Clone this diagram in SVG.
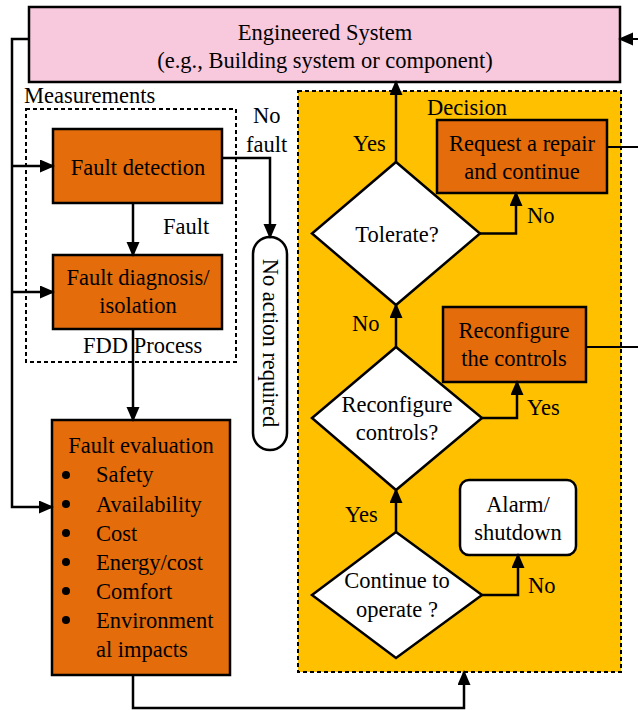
<svg xmlns="http://www.w3.org/2000/svg" width="638" height="710" viewBox="0 0 638 710">
<style>
text{font-family:'Liberation Serif','Times New Roman','DejaVu Serif',serif;font-size:22.5px;fill:#000}
.c{text-anchor:middle}
.box{fill:#E46C0A;stroke:#000;stroke-width:2.5}
.wht{fill:#fff;stroke:#000;stroke-width:2.5}
.dash{stroke:#000;stroke-width:2;stroke-dasharray:4 3}
.ln{fill:none;stroke:#000;stroke-width:2.5}
.thin{fill:none;stroke:#000;stroke-width:2}
.ar{marker-end:url(#ah)}
</style>
<defs>
<marker id="ah" markerUnits="userSpaceOnUse" markerWidth="16" markerHeight="14" viewBox="0 0 16 14" refX="13" refY="6.5" orient="auto">
<path d="M0,0 L15,6.5 L0,13 z" fill="#000"/>
</marker>
</defs>
<g font-family="Liberation Serif, Times New Roman, serif">

<g id="decision-area">
<rect x="298" y="91" width="323" height="581" fill="#FFC000" class="dash"/>
<text x="427" y="115">Decision</text>
</g>

<g id="fdd-area">
<rect x="26" y="109" width="210" height="253" fill="none" class="dash"/>
<text x="24" y="103">Measurements</text>
<text x="83" y="353">FDD Process</text>
</g>

<g id="engineered-system">
<rect x="29" y="7" width="591" height="75" fill="#F8C8DC" stroke="#000" stroke-width="2.5"/>
<text class="c" x="325" y="40">Engineered System</text>
<text class="c" x="325" y="68">(e.g., Building system or component)</text>
</g>

<g id="fault-detection">
<rect class="box" x="53" y="129" width="169" height="74"/>
<text class="c" x="138" y="175">Fault detection</text>
</g>

<g id="fault-diagnosis">
<rect class="box" x="53" y="255" width="169" height="74"/>
<text class="c" x="138" y="285">Fault diagnosis/</text>
<text class="c" x="138" y="313">isolation</text>
</g>

<g id="no-action">
<rect class="wht" x="253" y="237" width="34" height="213" rx="17"/>
<text class="c" transform="translate(263,343) rotate(90)">No action required</text>
</g>

<g id="fault-evaluation">
<rect class="box" x="52" y="420" width="178" height="255"/>
<text class="c" x="141" y="453">Fault evaluation</text>
<g fill="#000">
<circle cx="66" cy="475" r="4"/>
<circle cx="66" cy="504" r="4"/>
<circle cx="66" cy="533" r="4"/>
<circle cx="66" cy="562" r="4"/>
<circle cx="66" cy="591" r="4"/>
<circle cx="66" cy="620" r="4"/>
</g>
<text x="96" y="482">Safety</text>
<text x="96" y="512">Availability</text>
<text x="96" y="541">Cost</text>
<text x="96" y="570">Energy/cost</text>
<text x="96" y="599">Comfort</text>
<text x="96" y="628">Environment</text>
<text x="96" y="657">al impacts</text>
</g>

<g id="tolerate">
<polygon class="wht" points="396,162 480,233.5 396,305 312,233.5"/>
<text class="c" x="397" y="242">Tolerate?</text>
</g>

<g id="request-repair">
<rect class="box" x="437" y="120" width="170" height="73"/>
<text class="c" x="522" y="151">Request a repair</text>
<text class="c" x="522" y="179">and continue</text>
</g>

<g id="reconfigure-decision">
<polygon class="wht" points="396,347 482,418 396,490 312,418"/>
<text class="c" x="397" y="412">Reconfigure</text>
<text class="c" x="397" y="440">controls?</text>
</g>

<g id="reconfigure-controls">
<rect class="box" x="443" y="307" width="143" height="75"/>
<text class="c" x="514" y="338">Reconfigure</text>
<text class="c" x="514" y="366">the controls</text>
</g>

<g id="continue-operate">
<polygon class="wht" points="396,532 482,595 396,658 312,595"/>
<text class="c" x="397" y="588">Continue to</text>
<text class="c" x="397" y="617">operate ?</text>
</g>

<g id="alarm">
<rect class="wht" x="460" y="480" width="116" height="75" rx="9"/>
<text class="c" x="518" y="512">Alarm/</text>
<text class="c" x="518" y="540">shutdown</text>
</g>

<g id="connectors">
<path class="ln ar" d="M29,39 H12 V507 H52"/>
<path class="ln ar" d="M12,166 H53"/>
<path class="ln ar" d="M12,292 H53"/>
<path class="ln ar" d="M133,203 V255"/>
<path class="ln ar" d="M222,158 H270 V237"/>
<path class="ln ar" d="M133,329 V420"/>
<path class="ln ar" d="M133,675 V708 H464 V672"/>
<path class="ln ar" d="M396,162 V82"/>
<path class="ln ar" d="M480,233.5 H516 V193"/>
<path class="ln ar" d="M396,347 V305"/>
<path class="ln ar" d="M482,418 H517 V382"/>
<path class="ln ar" d="M396,532 V490"/>
<path class="ln ar" d="M482,595 H518 V555"/>
<path class="thin" d="M607,147 H640"/>
<path class="thin" d="M586,347 H640"/>
<path class="thin ar" d="M640,39 H620"/>
</g>

<g id="labels">
<text x="253" y="123">No</text>
<text x="246" y="152">fault</text>
<text x="163" y="234">Fault</text>
<text x="353" y="151">Yes</text>
<text x="527" y="223">No</text>
<text x="352" y="331">No</text>
<text x="527" y="415">Yes</text>
<text x="345" y="522">Yes</text>
<text x="528" y="593">No</text>
</g>
</g>
</svg>
